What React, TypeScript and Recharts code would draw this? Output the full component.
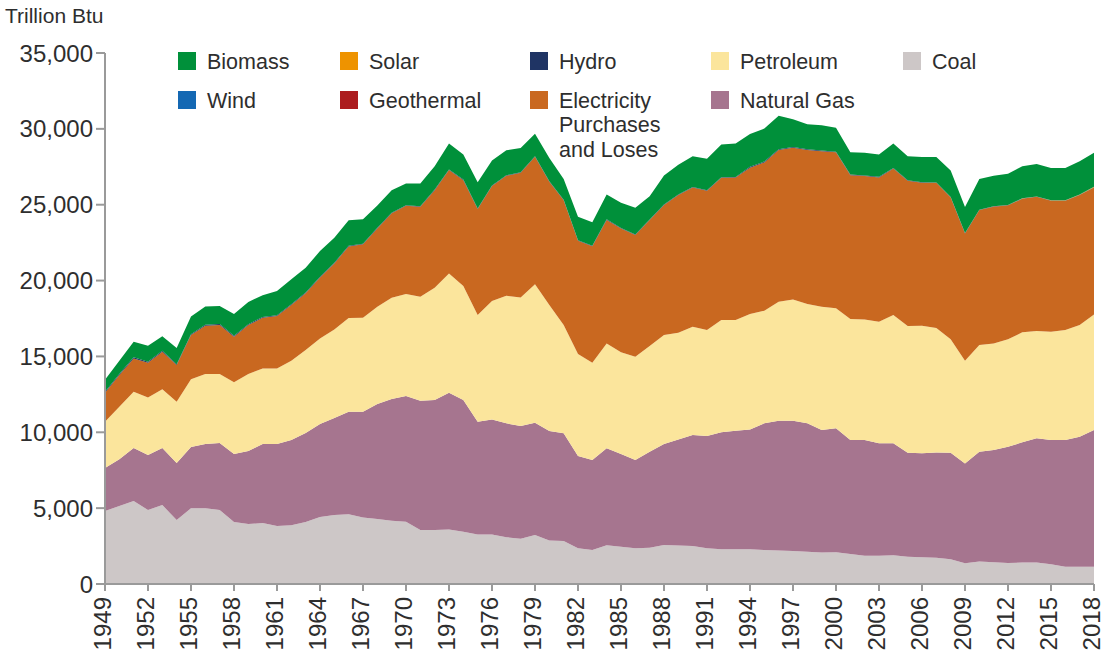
import React from 'react';
import { AreaChart, Area, XAxis, YAxis } from 'recharts';

const years = [
  1949, 1950, 1951, 1952, 1953, 1954, 1955, 1956, 1957, 1958,
  1959, 1960, 1961, 1962, 1963, 1964, 1965, 1966, 1967, 1968,
  1969, 1970, 1971, 1972, 1973, 1974, 1975, 1976, 1977, 1978,
  1979, 1980, 1981, 1982, 1983, 1984, 1985, 1986, 1987, 1988,
  1989, 1990, 1991, 1992, 1993, 1994, 1995, 1996, 1997, 1998,
  1999, 2000, 2001, 2002, 2003, 2004, 2005, 2006, 2007, 2008,
  2009, 2010, 2011, 2012, 2013, 2014, 2015, 2016, 2017, 2018,
];

const coal = [
  4810, 5140, 5470, 4880, 5200, 4220, 5000, 5000, 4880, 4090,
  3950, 4020, 3820, 3880, 4090, 4410, 4550, 4600, 4390, 4280,
  4170, 4110, 3560, 3560, 3600, 3450, 3270, 3270, 3080, 2990,
  3230, 2860, 2830, 2350, 2240, 2550, 2460, 2350, 2390, 2570,
  2530, 2500, 2350, 2290, 2290, 2290, 2240, 2200, 2180, 2130,
  2070, 2090, 1980, 1870, 1870, 1890, 1800, 1760, 1730, 1630,
  1360, 1490, 1430, 1390, 1410, 1410, 1300, 1140, 1140, 1140,
];

const naturalGas = [
  2830, 3090, 3490, 3620, 3760, 3750, 4030, 4230, 4410, 4480,
  4820, 5210, 5410, 5610, 5860, 6130, 6390, 6750, 6970, 7580,
  8020, 8280, 8520, 8570, 9010, 8680, 7430, 7580, 7510, 7420,
  7400, 7220, 7100, 6090, 5930, 6390, 6110, 5820, 6330, 6660,
  7000, 7320, 7400, 7710, 7810, 7900, 8350, 8560, 8580, 8460,
  8080, 8170, 7510, 7620, 7400, 7380, 6850, 6850, 6930, 7020,
  6590, 7230, 7400, 7660, 7930, 8190, 8190, 8350, 8570, 9010,
];

const petroleum = [
  3060, 3460, 3710, 3800, 3870, 4040, 4460, 4610, 4550, 4720,
  5070, 4980, 4980, 5230, 5470, 5650, 5840, 6180, 6190, 6410,
  6680, 6720, 6850, 7400, 7860, 7510, 7030, 7800, 8410, 8480,
  9120, 8310, 7140, 6720, 6410, 6920, 6700, 6810, 6960, 7180,
  7030, 7140, 6990, 7400, 7300, 7600, 7420, 7840, 8000, 7860,
  8120, 7910, 7970, 7950, 8020, 8460, 8350, 8410, 8210, 7480,
  6770, 7030, 7030, 7080, 7250, 7070, 7140, 7250, 7360, 7620,
];

const electricity = [
  1910, 2080, 2200, 2280, 2480, 2420, 2920, 3180, 3230, 3010,
  3230, 3340, 3450, 3670, 3740, 4020, 4350, 4720, 4840, 5170,
  5560, 5820, 5940, 6430, 6810, 6980, 6980, 7580, 7910, 8220,
  8410, 8120, 8230, 7460, 7690, 8140, 8170, 8020, 8310, 8570,
  9080, 9180, 9180, 9380, 9400, 9650, 9780, 10000, 9990, 10150,
  10260, 10280, 9490, 9450, 9510, 9660, 9580, 9430, 9580, 9350,
  8390, 8900, 9010, 8830, 8800, 8850, 8630, 8520, 8570, 8370,
];

const hydro = [
  69, 72, 68, 66, 62, 60, 58, 60, 62, 60,
  55, 53, 52, 50, 48, 46, 45, 44, 44, 42,
  40, 38, 36, 35, 34, 35, 34, 33, 32, 33,
  34, 33, 33, 34, 33, 34, 33, 33, 32, 30,
  29, 31, 30, 31, 29, 62, 55, 58, 55, 49,
  49, 42, 33, 39, 43, 33, 32, 29, 16, 17,
  18, 16, 17, 16, 16, 14, 13, 12, 13, 13,
];

const geothermal = [
  0, 0, 0, 0, 0, 0, 0, 0, 0, 0,
  0, 0, 0, 0, 0, 0, 0, 0, 0, 0,
  0, 0, 0, 0, 0, 0, 0, 0, 0, 0,
  0, 0, 0, 0, 0, 0, 0, 0, 0, 0,
  2, 2, 2, 2, 2, 2, 2, 2, 2, 2,
  2, 2, 2, 2, 2, 3, 3, 3, 4, 4,
  4, 4, 4, 4, 4, 4, 4, 4, 4, 4,
];

const wind = [
  0, 0, 0, 0, 0, 0, 0, 0, 0, 0,
  0, 0, 0, 0, 0, 0, 0, 0, 0, 0,
  0, 0, 0, 0, 0, 0, 0, 0, 0, 0,
  0, 0, 0, 0, 0, 0, 0, 0, 0, 0,
  0, 0, 0, 0, 0, 0, 0, 0, 0, 0,
  0, 0, 0, 0, 0, 0, 0, 0, 0, 0,
  0, 1, 1, 1, 1, 1, 1, 1, 1, 2,
];

const solar = [
  0, 0, 0, 0, 0, 0, 0, 0, 0, 0,
  0, 0, 0, 0, 0, 0, 0, 0, 0, 0,
  0, 0, 0, 0, 0, 0, 0, 0, 0, 0,
  0, 0, 0, 0, 0, 0, 0, 0, 0, 0,
  0, 0, 0, 0, 0, 0, 0, 0, 0, 0,
  0, 0, 0, 0, 0, 0, 0, 0, 0, 1,
  2, 3, 4, 5, 7, 9, 12, 15, 19, 22,
];

const biomass = [
  790, 880, 1030, 1060, 950, 1060, 1160, 1210, 1200, 1430,
  1470, 1430, 1600, 1640, 1640, 1690, 1650, 1690, 1600, 1470,
  1490, 1430, 1490, 1540, 1720, 1650, 1740, 1650, 1650, 1600,
  1480, 1540, 1370, 1550, 1540, 1640, 1650, 1760, 1530, 1910,
  1970, 2020, 2070, 2150, 2200, 2150, 2170, 2200, 1830, 1650,
  1650, 1580, 1470, 1490, 1470, 1610, 1580, 1670, 1670, 1760,
  1710, 2020, 2020, 2060, 2110, 2140, 2130, 2130, 2190, 2240,
];

const xTicks = [
  1949, 1952, 1955, 1958, 1961, 1964, 1967, 1970, 1973, 1976, 1979, 1982,
  1985, 1988, 1991, 1994, 1997, 2000, 2003, 2006, 2009, 2012, 2015, 2018,
];
const yTicks = [0, 5000, 10000, 15000, 20000, 25000, 30000, 35000];

const unitLabel = 'Trillion Btu';

// stacking order, bottom to top
const series = [
  { key: 'coal', name: 'Coal', color: '#cdc7c7' },
  { key: 'naturalGas', name: 'Natural Gas', color: '#a6758f' },
  { key: 'petroleum', name: 'Petroleum', color: '#fbe59c' },
  { key: 'electricity', name: 'Electricity Purchases and Loses', color: '#c96820' },
  { key: 'hydro', name: 'Hydro', color: '#1f3464' },
  { key: 'geothermal', name: 'Geothermal', color: '#ac1c1e' },
  { key: 'wind', name: 'Wind', color: '#1468b3' },
  { key: 'solar', name: 'Solar', color: '#ee9300' },
  { key: 'biomass', name: 'Biomass', color: '#00903a' },
];

// legend order: row 1 then row 2
const legendOrder = [
  'biomass', 'solar', 'hydro', 'petroleum', 'coal',
  'wind', 'geothermal', 'electricity', 'naturalGas',
];

const data = years.map((year, i) => ({
  year,
  coal: coal[i],
  naturalGas: naturalGas[i],
  petroleum: petroleum[i],
  electricity: electricity[i],
  hydro: hydro[i],
  geothermal: geothermal[i],
  wind: wind[i],
  solar: solar[i],
  biomass: biomass[i],
}));

const FONT = '"Liberation Sans", Arial, sans-serif';
const TEXT = '#2e2e2e';
const AXIS = '#9a9a9a';

const XTick = (props: any) => {
  const { x, y, payload } = props;
  return (
    <g transform={`translate(${x},${y})`}>
      <text
        x={0}
        y={0}
        dy="0.27em"
        textAnchor="end"
        transform="rotate(-90)"
        fill={TEXT}
        fontSize={24}
        fontFamily={FONT}
      >
        {payload.value}
      </text>
    </g>
  );
};

const colX = [178, 340, 530, 711, 903];
const rowTop = [49.8, 88.8];

export default function App() {
  return (
    <div style={{ position: 'absolute', left: 0, top: 0, width: 1106, height: 655, background: '#fff' }}>
      <div
        style={{
          position: 'absolute',
          left: 5,
          top: 5,
          fontFamily: FONT,
          fontSize: 21,
          lineHeight: '21px',
          color: TEXT,
          whiteSpace: 'nowrap',
        }}
      >
        {unitLabel}
      </div>
      <AreaChart
        width={1106}
        height={655}
        data={data}
        margin={{ top: 53, right: 12, bottom: 0, left: 0 }}
      >
        <XAxis
          dataKey="year"
          type="number"
          domain={[1949, 2018]}
          ticks={xTicks}
          interval={0}
          height={71}
          tickSize={7}
          tickMargin={6}
          stroke={AXIS}
          strokeWidth={2}
          tick={<XTick />}
        />
        <YAxis
          type="number"
          domain={[0, 35000]}
          ticks={yTicks}
          width={105}
          tickSize={9}
          tickMargin={3}
          stroke={AXIS}
          strokeWidth={2}
          tickFormatter={(v: number) => v.toLocaleString('en-US')}
          tick={{ fill: TEXT, fontSize: 24, fontFamily: FONT }}
        />
        {series.map((s) => (
          <Area
            key={s.key}
            type="linear"
            dataKey={s.key}
            name={s.name}
            stackId="1"
            stroke="none"
            fill={s.color}
            fillOpacity={1}
            isAnimationActive={false}
          />
        ))}
      </AreaChart>
      {legendOrder.map((k, i) => {
        const s = series.find((d) => d.key === k)!;
        const col = i % 5;
        const row = Math.floor(i / 5);
        return (
          <div key={k}>
            <div
              style={{
                position: 'absolute',
                left: colX[col],
                top: row === 0 ? 52 : 91,
                width: 18,
                height: 18,
                background: s.color,
              }}
            />
            <div
              style={{
                position: 'absolute',
                left: colX[col] + 29,
                top: rowTop[row],
                width: 125,
                fontFamily: FONT,
                fontSize: 21.5,
                lineHeight: '24.5px',
                color: TEXT,
              }}
            >
              {s.name}
            </div>
          </div>
        );
      })}
    </div>
  );
}
